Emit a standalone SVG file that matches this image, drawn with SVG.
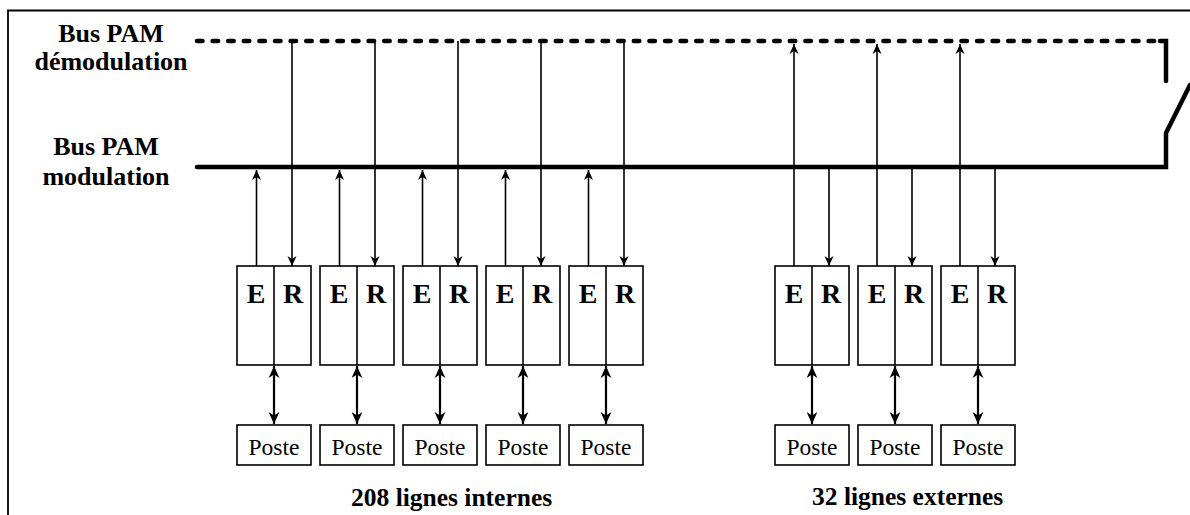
<svg xmlns="http://www.w3.org/2000/svg" width="1190" height="515" viewBox="0 0 1190 515">
<style>
.lbl{font-family:"Liberation Serif","Times New Roman",serif;font-weight:bold;fill:#000}
.bus{font-size:26px;text-anchor:middle}
.er{font-size:28px;text-anchor:middle}
.poste{font-family:"Liberation Serif","Times New Roman",serif;font-size:23.5px;text-anchor:middle;fill:#000}
.foot{font-size:25.5px}
.box{fill:#fff;stroke:#000;stroke-width:1.6}
.thin{stroke:#000;stroke-width:1.6;fill:none}
.dbl{stroke:#000;stroke-width:2.2;fill:none}
.busline{stroke:#000;stroke-width:4.5;fill:none;stroke-linecap:round}
</style>
<defs>
<marker id="ah" viewBox="0 0 10 10" refX="10" refY="5" markerWidth="10" markerHeight="10" markerUnits="userSpaceOnUse" orient="auto">
<path d="M0,0.5 L10,5 L0,9.5 L3,5 Z" fill="#000"/>
</marker>
<marker id="ahb" viewBox="0 0 10 10" refX="10" refY="5" markerWidth="12" markerHeight="12" markerUnits="userSpaceOnUse" orient="auto-start-reverse">
<path d="M0,0.5 L10,5 L0,9.5 L3,5 Z" fill="#000"/>
</marker>
</defs>
<rect width="1190" height="515" fill="#fff"/>
<!-- frame -->
<path d="M8,515 L8,10.5 L1190,10.5" fill="none" stroke="#000" stroke-width="1.8"/>
<!-- labels -->
<g id="label-demod">
<text class="lbl bus" x="111" y="42">Bus PAM</text>
<text class="lbl bus" x="111" y="70">démodulation</text>
</g>
<g id="label-mod">
<text class="lbl bus" x="106" y="155">Bus PAM</text>
<text class="lbl bus" x="106" y="185">modulation</text>
</g>
<!-- buses -->
<g id="bus-demod">
<path class="busline" d="M197,41 L1162,41" stroke-dasharray="5.5 10.1"/>
<path class="busline" d="M1160,41 L1166,41 L1166,81"/>
</g>
<g id="bus-mod">
<path class="busline" d="M197,167 L1166,167 L1166,133 L1190,85"/>
</g>
<!-- connectors -->
<g id="connectors">
<!-- internal -->
<line class="thin" x1="256.5" y1="266" x2="256.5" y2="170" marker-end="url(#ah)"/>
<line class="thin" x1="292" y1="41" x2="292" y2="266" marker-end="url(#ah)"/>
<line class="thin" x1="339.5" y1="266" x2="339.5" y2="170" marker-end="url(#ah)"/>
<line class="thin" x1="375" y1="41" x2="375" y2="266" marker-end="url(#ah)"/>
<line class="thin" x1="422.5" y1="266" x2="422.5" y2="170" marker-end="url(#ah)"/>
<line class="thin" x1="458" y1="41" x2="458" y2="266" marker-end="url(#ah)"/>
<line class="thin" x1="505.5" y1="266" x2="505.5" y2="170" marker-end="url(#ah)"/>
<line class="thin" x1="541" y1="41" x2="541" y2="266" marker-end="url(#ah)"/>
<line class="thin" x1="588.5" y1="266" x2="588.5" y2="170" marker-end="url(#ah)"/>
<line class="thin" x1="624" y1="41" x2="624" y2="266" marker-end="url(#ah)"/>
<!-- external -->
<line class="thin" x1="794" y1="266" x2="794" y2="44" marker-end="url(#ah)"/>
<line class="thin" x1="829" y1="167" x2="829" y2="266" marker-end="url(#ah)"/>
<line class="thin" x1="877" y1="266" x2="877" y2="44" marker-end="url(#ah)"/>
<line class="thin" x1="912" y1="167" x2="912" y2="266" marker-end="url(#ah)"/>
<line class="thin" x1="960" y1="266" x2="960" y2="44" marker-end="url(#ah)"/>
<line class="thin" x1="995" y1="167" x2="995" y2="266" marker-end="url(#ah)"/>
<!-- double arrows -->
<line class="dbl" x1="274" y1="366" x2="274" y2="424" marker-start="url(#ahb)" marker-end="url(#ahb)"/>
<line class="dbl" x1="357" y1="366" x2="357" y2="424" marker-start="url(#ahb)" marker-end="url(#ahb)"/>
<line class="dbl" x1="440" y1="366" x2="440" y2="424" marker-start="url(#ahb)" marker-end="url(#ahb)"/>
<line class="dbl" x1="523" y1="366" x2="523" y2="424" marker-start="url(#ahb)" marker-end="url(#ahb)"/>
<line class="dbl" x1="606" y1="366" x2="606" y2="424" marker-start="url(#ahb)" marker-end="url(#ahb)"/>
<line class="dbl" x1="812" y1="366" x2="812" y2="424" marker-start="url(#ahb)" marker-end="url(#ahb)"/>
<line class="dbl" x1="895" y1="366" x2="895" y2="424" marker-start="url(#ahb)" marker-end="url(#ahb)"/>
<line class="dbl" x1="978" y1="366" x2="978" y2="424" marker-start="url(#ahb)" marker-end="url(#ahb)"/>
</g>
<!-- E/R blocks -->
<g id="er1"><rect class="box" x="237" y="266" width="74" height="99"/><line class="thin" x1="274" y1="266" x2="274" y2="365"/><text class="lbl er" x="256" y="303">E</text><text class="lbl er" x="293" y="303">R</text></g>
<g id="er2"><rect class="box" x="320" y="266" width="74" height="99"/><line class="thin" x1="357" y1="266" x2="357" y2="365"/><text class="lbl er" x="339" y="303">E</text><text class="lbl er" x="376" y="303">R</text></g>
<g id="er3"><rect class="box" x="403" y="266" width="74" height="99"/><line class="thin" x1="440" y1="266" x2="440" y2="365"/><text class="lbl er" x="422" y="303">E</text><text class="lbl er" x="459" y="303">R</text></g>
<g id="er4"><rect class="box" x="486" y="266" width="74" height="99"/><line class="thin" x1="523" y1="266" x2="523" y2="365"/><text class="lbl er" x="505" y="303">E</text><text class="lbl er" x="542" y="303">R</text></g>
<g id="er5"><rect class="box" x="569" y="266" width="74" height="99"/><line class="thin" x1="606" y1="266" x2="606" y2="365"/><text class="lbl er" x="588" y="303">E</text><text class="lbl er" x="625" y="303">R</text></g>
<g id="er6"><rect class="box" x="775" y="266" width="74" height="99"/><line class="thin" x1="812" y1="266" x2="812" y2="365"/><text class="lbl er" x="794" y="303">E</text><text class="lbl er" x="831" y="303">R</text></g>
<g id="er7"><rect class="box" x="858" y="266" width="74" height="99"/><line class="thin" x1="895" y1="266" x2="895" y2="365"/><text class="lbl er" x="877" y="303">E</text><text class="lbl er" x="914" y="303">R</text></g>
<g id="er8"><rect class="box" x="941" y="266" width="74" height="99"/><line class="thin" x1="978" y1="266" x2="978" y2="365"/><text class="lbl er" x="960" y="303">E</text><text class="lbl er" x="997" y="303">R</text></g>
<!-- Poste boxes -->
<g id="poste1"><rect class="box" x="237" y="425" width="74" height="40"/><text class="poste" x="274" y="455">Poste</text></g>
<g id="poste2"><rect class="box" x="320" y="425" width="74" height="40"/><text class="poste" x="357" y="455">Poste</text></g>
<g id="poste3"><rect class="box" x="403" y="425" width="74" height="40"/><text class="poste" x="440" y="455">Poste</text></g>
<g id="poste4"><rect class="box" x="486" y="425" width="74" height="40"/><text class="poste" x="523" y="455">Poste</text></g>
<g id="poste5"><rect class="box" x="569" y="425" width="74" height="40"/><text class="poste" x="606" y="455">Poste</text></g>
<g id="poste6"><rect class="box" x="775" y="425" width="74" height="40"/><text class="poste" x="812" y="455">Poste</text></g>
<g id="poste7"><rect class="box" x="858" y="425" width="74" height="40"/><text class="poste" x="895" y="455">Poste</text></g>
<g id="poste8"><rect class="box" x="941" y="425" width="74" height="40"/><text class="poste" x="978" y="455">Poste</text></g>
<!-- footers -->
<text class="lbl foot" x="351" y="506">208 lignes internes</text>
<text class="lbl foot" x="812" y="505">32 lignes externes</text>
</svg>
